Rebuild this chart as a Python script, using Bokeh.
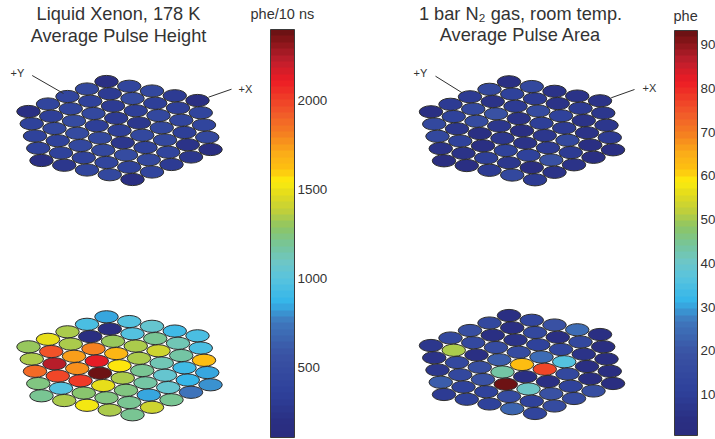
import numpy as np
from bokeh.embed import file_html
from bokeh.resources import INLINE
from bokeh.plotting import figure
from bokeh.models import ColumnDataSource, LinearColorMapper, ColorBar, FixedTicker
from bokeh.core.properties import value
from bokeh.transform import transform

# Pulse values by array row (top edge of the hexagon to the bottom edge)
lxe_height_top = [
    [200, 420, 440, 320, 180],
    [440, 310, 470, 350, 340, 420],
    [410, 380, 300, 330, 440, 410, 420],
    [410, 410, 460, 310, 270, 430, 330, 450],
    [200, 350, 470, 340, 330, 430, 430, 250, 190],
    [380, 430, 500, 450, 280, 360, 420, 270],
    [380, 390, 430, 440, 480, 460, 310],
    [360, 380, 380, 400, 380, 420],
    [200, 280, 420, 450, 200],
]
lxe_height_bottom = [
    [830, 980, 1050, 920, 950],
    [960, 170, 1000, 1190, 1130, 960],
    [1350, 170, 1320, 1350, 1420, 1180, 1620],
    [1500, 1340, 1800, 1680, 1340, 1120, 930, 830],
    [1320, 1950, 1720, 2130, 1560, 1210, 1040, 860, 820],
    [1340, 2240, 1780, 2400, 1330, 1170, 1040, 720],
    [1870, 1980, 2010, 1470, 1220, 850, 1210],
    [1240, 990, 1270, 1230, 1190, 1400],
    [1190, 1360, 1530, 1340, 1210],
]
gas_area_top = [
    [4, 15, 5, 6, 5],
    [15, 11, 9, 5, 9, 7],
    [9, 6, 9, 16, 11, 5, 7],
    [8, 14, 19, 6, 10, 9, 6, 9],
    [4, 11, 16, 7, 4, 7, 15, 4, 4],
    [14, 7, 4, 7, 6, 9, 9, 4],
    [15, 12, 4, 11, 11, 19, 5],
    [5, 5, 10, 7, 3, 6],
    [3, 4, 9, 14, 9],
]
gas_area_bottom = [
    [4, 13, 19, 24, 4],
    [14, 4, 14, 4, 14, 3],
    [17, 4, 6, 12, 13, 5, 3],
    [14, 14, 16, 16, 25, 36, 4, 3],
    [7, 50, 4, 22, 62, 77, 15, 3, 3],
    [6, 15, 17, 44, 4, 4, 12, 17],
    [7, 14, 19, 93, 41, 19, 16],
    [21, 12, 12, 16, 12, 16],
    [9, 11, 11, 23, 13],
]

height_ticks = [500, 1000, 1500, 2000]
area_ticks = [10, 20, 30, 40, 50, 60, 70, 80, 90]
height_tick_marks = [440]

titles_left = ["Liquid Xenon, 178 K", "Average Pulse Height"]
titles_right = ["1 bar N\u2082 gas, room temp.", "Average Pulse Area"]
units = ["phe/10 ns", "phe"]

height_low, height_high = 107, 2399
area_low, area_high = 0.6, 93.3

# Printed "jet" anchors sampled from the reference colour bar
anchor_pos = [0, .03, .1, .2, .28, .33, .39, .43, .47, .515, .556, .6, .63, .66, .695, .745, .8, .88, .93, .98, 1]
anchor_hex = ["2a2d7f", "2a2f82", "2e409a", "3a53a4", "3f78bd", "34b5ea", "5ac4dd", "6ec6c5", "76c59a", "8cc566",
              "c0cf3b", "e4dc1c", "fdee0c", "fdc010", "fbb017", "f58220", "f1592a", "ed1c24", "be1e2d", "851518", "6d1214"]
rgb = np.array([[int(h[i:i + 2], 16) for i in (0, 2, 4)] for h in anchor_hex], dtype=float)
levels = np.linspace(0, 1, 64)
palette = ["#%02x%02x%02x" % tuple(int(round(np.interp(t, anchor_pos, rgb[:, c]))) for c in range(3)) for t in levels]

INK = "#333333"
SANS = "Liberation Sans"

p = figure(width=715, height=439, x_range=(0, 715), y_range=(439, 0), output_backend="svg",
           toolbar_location=None, min_border=0, outline_line_color=None, margin=(0, 0, 0, 0))
p.axis.visible = False
p.grid.visible = False

U = np.array([22.75, 4.75])
W = np.array([-19.5, 7.5])


def draw_array(rows, centre, mapper):
    xs, ys, vals = [], [], []
    for r, row in enumerate(rows):
        b = r - 4
        a0 = max(-4, b - 4)
        for k, v in enumerate(row):
            pos = np.array(centre) + (a0 + k) * U + b * W
            xs.append(pos[0]); ys.append(pos[1]); vals.append(v)
    src = ColumnDataSource(dict(x=xs, y=ys, v=vals))
    p.ellipse("x", "y", width=23.5, height=12.2, source=src, fill_color=transform("v", mapper),
              line_color="#2e2e2e", line_width=1)


map_height = LinearColorMapper(palette=palette, low=height_low, high=height_high)
map_area = LinearColorMapper(palette=palette, low=area_low, high=area_high)

draw_array(lxe_height_top, (119, 130), map_height)
draw_array(lxe_height_bottom, (119, 365.3), map_height)
draw_array(gas_area_top, (521.5, 130.3), map_area)
draw_array(gas_area_bottom, (521.5, 364), map_area)


def colour_bar(mapper, ticks, x, top, bottom, bar_width):
    cb = ColorBar(color_mapper=mapper, ticker=FixedTicker(ticks=ticks), width=bar_width, height=bottom - top,
                  location=(x, 439 - bottom), padding=0, margin=0, label_standoff=3,
                  major_tick_line_color=None, minor_tick_line_color=None,
                  major_label_text_font=SANS, major_label_text_font_size="13.4px",
                  major_label_text_color=INK, bar_line_color="#3a3a3a", bar_line_width=1,
                  background_fill_color=None, border_line_color=None)
    p.add_layout(cb, "center")


colour_bar(map_height, height_ticks, 270, 29, 437, 24)
colour_bar(map_area, area_ticks, 674, 30, 435, 23)


def bar_ticks(vals, low, high, x0, top, bottom, bar_width):
    ys = [bottom - (v - low) / (high - low) * (bottom - top) for v in vals]
    p.segment([x0] * len(ys), ys, [x0 + 3] * len(ys), ys, line_color="#303030", line_width=1)
    p.segment([x0 + bar_width] * len(ys), ys, [x0 + bar_width - 3] * len(ys), ys, line_color="#303030", line_width=1)


bar_ticks(height_tick_marks, height_low, height_high, 270, 29, 437, 24)
bar_ticks(area_ticks, area_low, area_high, 674, 30, 435, 23)


def label(x, y, s, size, align="left"):
    p.text([x], [y], text=[s], text_font=value(SANS), text_font_size=size, text_color=INK,
           text_align=align, text_baseline="middle")


label(118, 13.5, titles_left[0], "18.2px", "center")
label(118, 35.5, titles_left[1], "18.2px", "center")
label(520, 13.5, titles_right[0], "18.2px", "center")
label(520, 34.5, titles_right[1], "18.2px", "center")
label(250, 13, units[0], "14.5px")
label(673, 15, units[1], "14.5px")
label(10, 72, "+Y", "11px")
label(238, 88, "+X", "11px")
label(413, 72, "+Y", "11px")
label(642, 87, "+X", "11px")

p.segment([31.7, 208, 435, 610.7], [75, 96.7, 75.7, 97.3], [63, 231, 461.7, 634], [93, 88.7, 92.3, 89],
          line_color="#303030", line_width=1)

open("out.html", "w").write(file_html(p, INLINE))
